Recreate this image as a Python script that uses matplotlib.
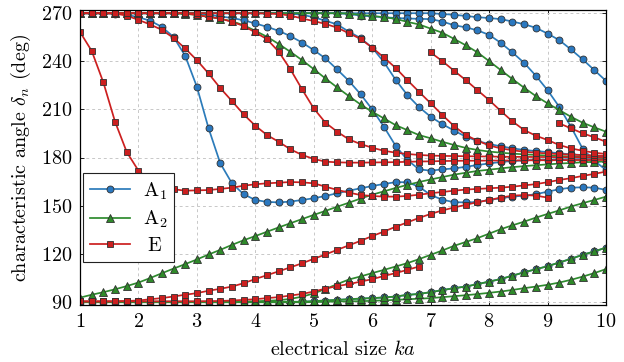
import matplotlib
matplotlib.use("Agg")
import matplotlib.pyplot as plt
import numpy as np

plt.rcParams['font.family'] = 'cmr10'
plt.rcParams['mathtext.fontset'] = 'cm'
plt.rcParams['axes.formatter.use_mathtext'] = True

# electrical size ka, sampled every 0.2
ka = np.linspace(1, 10, 46)

# ---- A1 (blue) ----
a1_1 = [270, 270, 270, 269.8, 269, 267.5, 265.3, 261.5, 255.2, 243.4,
        224.1, 198.2, 176.4, 163.9, 157.1, 153.5, 152.3, 152.0, 152.5, 153.5,
        154.6, 156.0, 157.7, 159.3, 160.8, 162.2, 163.5, 164.6, 164.6, 161.8,
        156.6, 153.7, 152.1, 152.0, 152.2, 153.5, 154.6, 155.6, 156.2, 157.1,
        158.7, 160.2, 161.2, 161.4, 161.2, 159.8]
a1_2 = [270] * 10 + \
       [269.8, 269, 268, 267, 265.6, 263.6, 261.5, 259, 255.7, 251.7,
        247, 241.8, 234.9, 227.8, 219.5, 210, 199.2, 187.3, 178.5, 172.6,
        171.8, 172.6, 173.2, 174.2, 175.3, 176.3, 177.2, 177.8, 178.2, 178.5,
        178.7, 178.8, 178.9, 179, 179, 179]
a1_3 = [270] * 18 + \
       [269.8, 269,
        267.5, 265.3, 263, 258.5, 254.5, 248.5, 239.5, 228.5, 219, 211.5,
        205.4, 200.8, 196.8, 193, 190.3, 188.4, 187, 185.7, 184.7, 184,
        183.4, 182.6, 182, 181.5, 181, 180.6]
a1_4 = [270] * 31 + \
       [269.5, 269, 268.3, 267.5, 267, 266.3, 264.8, 263.1, 260.9,
        257.3, 253.2, 247.4, 241.2, 234.5, 227.8]
a1_5 = [270] * 23 + \
       [269.5, 268.5, 268, 267.5, 267, 266.7, 266.5,
        266.3, 264.8, 262.5, 261.2, 259.3, 256.5, 251.5, 245.5, 239, 231,
        222, 211.6, 199.2, 185.5, 178, 172.2]
a1_6 = [90] * 20 + \
       [90.4, 90.8, 91.2, 91.6, 92, 92.3, 92.7, 93.3, 94.3, 94.9,
        96, 97.3, 98.5, 99.5, 101, 102.6, 104.2, 106.3, 108.4, 110.3,
        112.2, 114.5, 116.8, 119.3, 121.4, 123.8]

# ---- A2 (green) ----
a2_1 = [270] * 9 + \
       [269.5,
        269, 267.7, 266.5, 265, 262.5, 259, 255.3, 250.8, 245.9, 240.7,
        235.1, 229.3, 223.7, 218.3, 213.1, 208.5, 204.4, 200.2, 197.1, 194,
        192, 189.8, 187.8, 186, 184.7, 183.7, 183, 182.4, 182, 181.6,
        181.2, 180.9, 180.6, 180.3, 180, 179.7]
a2_2 = [270] * 23 + \
       [269.8, 269, 268.3, 267.5, 266.5, 264.6, 263,
        260.4, 257.8, 254, 250, 245.6, 240.1, 234.5, 228.9, 223.5, 218.3,
        213.8, 209.6, 205.4, 201.7, 198.8, 196.1]
a2_3 = [92.6, 94.4, 96, 97.8, 99.8, 102, 104.8, 107.8, 110.7, 113.5,
        116.4, 119.5, 122.4, 125.5, 128.4, 131, 133.7, 136.4, 139, 141.6,
        144.2, 146.7, 149.3, 151.8, 154.4, 156.8, 158.9, 161, 162.9, 164.7,
        166.3, 167.8, 169.3, 170.5, 171.6, 172.4, 173.2, 174, 174.6, 175.2,
        175.7, 176.2, 176.6, 177, 177.3, 177.5]
a2_4 = [90] * 15 + \
       [90.3, 90.6, 91, 91.8, 93.2,
        95.2, 98, 101, 103.9, 105.8, 107.9, 109.9, 112, 114.1, 116.6,
        119.3, 122, 124.9, 127.3, 129.7, 132.5, 135.3, 137.7, 140, 142.5,
        144.8, 147, 149.4, 151.5, 153.5, 155.6]
a2_5 = [89.7] * 20 + \
       [89.8, 90, 90.2, 90.3, 90.4, 90.6, 90.9, 91.2, 91.6, 91.9,
        92.3, 92.9, 93.5, 94.1, 94.8, 95.6, 96.4, 97.4, 98.5, 99.5,
        100.6, 102, 103.7, 105.7, 107.9, 110.4]
a2_6 = [90] * 20 + \
       [90.4, 90.8, 91.2, 91.6, 92, 92.3, 92.7, 93.3, 94.3, 94.9,
        96, 97.3, 98.5, 99.5, 101, 102.6, 104.2, 106.3, 108.4, 110.3,
        112.2, 114.5, 116.8, 119.3, 121.4, 123.8]

# ---- E (red) ----
e_1 = [258.3, 246.5, 226.8, 202.3, 183.4, 171.8, 165.5, 161.2, 160.2, 159.3,
       159.5, 159.7, 160.4, 161.2, 162.4, 163.3, 163.9, 164.3, 164.7, 164.5,
       163.9, 161.8, 159.8, 158.1, 156.6, 156, 155.6, 155.6, 156, 156.8,
       157.7, 158.5, 159.3, 160, 160.4, 160.8, 161.2, 161.8, 162.6, 163.4,
       164.6, 166, 167.1, 168.5, 169.8, 171.2]
e_2 = [270, 270, 270, 269.8, 268.5, 265.8, 263, 259.6, 254.6, 248,
       240.7, 232.4, 223.3, 215.2, 206.9, 199.8, 194, 189.8, 185.1, 181.6,
       179.1, 177.4, 177, 176.8, 176.8, 176.9, 177, 177.1, 177.3, 177.5,
       177.6, 177.8, 177.9, 178, 178, 178.1, 178.1, 178.2, 178.2, 178.3,
       178.3, 178.3, 178.4, 178.4, 178.4, 178.5]
e_3 = [270] * 10 + \
      [268.8, 267.7, 266.7, 264.6, 262.1, 258, 253.8, 246, 235, 222.5,
       210.6, 201.7, 196.1, 191.3, 188.4, 186.1, 184.2, 183, 182.2, 181.6,
       181.2, 181, 180.9, 180.8, 180.7, 180.6, 180.5, 180.4, 180.4, 180.3,
       180.3, 180.2, 180.2, 180.1, 180.1, 180]
e_4 = [270] * 16 + \
      [269.8, 269.5, 268.5, 266.7,
       265.1, 263.3, 261, 257.5, 254, 248.5, 242.4, 235.9, 228.3, 221,
       213.8, 206.5, 199.6, 194, 190.5, 187.5, 185.7, 184.5, 183.6, 183,
       182.5, 182.1, 181.8, 181.5, 181.3, 181]
# starts at ka = 7.0
e_5 = [245.5, 240.1, 234.1, 228.3, 222, 215.8, 209, 202.5, 197.1, 193.6,
       190.9, 187.8, 185.7, 184.2, 183, 182.2]
# starts at ka = 9.2
e_6 = [201.3, 198.2, 195.1, 192.6, 189.8]
# ends at ka = 6.8
e_7 = [90.3] * 10 + \
      [90.3, 90.4, 90.5, 90.8, 91.2, 91.6, 92.3, 92.9, 93.9, 94.9,
       96.4, 98.2, 99.8, 101, 102.6, 104.1, 106.1, 107.9, 109.9, 112]
# ends at ka = 9.0
e_8 = [90.2, 90.2, 90.2, 90.3, 90.5, 90.8, 91.6, 92.3, 93.3, 94.4,
       95.4, 96.9, 98.1, 99.5, 101.6, 104.2, 106.6, 109, 111.5, 114,
       116.8, 119.5, 122.4, 125.2, 128, 131, 133.8, 136.8, 139.5, 142.3,
       144.8, 147, 148.8, 150.5, 152.1, 153.5, 155, 156.2, 156.6, 156.2,
       155.0]

blue = '#2b7bba'
green = '#2e8b2e'
red = '#cc1f1f'
mk = dict(markeredgecolor='#303030', markeredgewidth=0.6, linewidth=1.25)

fig = plt.figure(figsize=(6.24, 3.62), dpi=100)
ax = fig.add_axes([80 / 624, 57 / 362, 526 / 624, 295 / 362])

for i, y in enumerate([a1_1, a1_2, a1_3, a1_4, a1_5, a1_6]):
    ax.plot(ka[:len(y)], y, color=blue, marker='o', markersize=5,
            markerfacecolor='#2a78c0', label='A$_1$' if i == 0 else None, **mk)

for i, y in enumerate([a2_1, a2_2, a2_3, a2_4, a2_5, a2_6]):
    ax.plot(ka[:len(y)], y, color=green, marker='^', markersize=5.4,
            markerfacecolor='#2f8a2a', label='A$_2$' if i == 0 else None, **mk)

e_curves = [(e_1, 0), (e_2, 0), (e_3, 0), (e_4, 0), (e_5, 30), (e_6, 41),
            (e_7, 0), (e_8, 0)]
for i, (y, start) in enumerate(e_curves):
    ax.plot(ka[start:start + len(y)], y, color=red, marker='s', markersize=4.4,
            markerfacecolor='#cc1f1f', label=r'$\;$E' if i == 0 else None, **mk)

ax.set_xlim(1, 10)
ax.set_ylim(88, 272)
ax.set_xticks(range(1, 11))
ax.set_yticks(range(90, 271, 30))
ax.grid(True, color='#c8c8c8', linestyle=(0, (3, 3)), linewidth=0.7)
ax.set_axisbelow(True)
ax.tick_params(direction='in', length=3, width=0.6, top=True, right=True,
               labelsize=14.5, pad=5.5)
for s in ax.spines.values():
    s.set_linewidth(0.9)

ax.set_xlabel('electrical size $ka$', fontsize=14.5, labelpad=7)
ax.set_ylabel(r'characteristic angle $\delta_n$ (deg)', fontsize=14.5,
              labelpad=6)

leg = ax.legend(loc='lower left', bbox_to_anchor=(0.006, 0.145), fontsize=14.5,
                fancybox=False, edgecolor='#222222', framealpha=1,
                handlelength=2.0, borderpad=0.35, labelspacing=0.35,
                handletextpad=0.6, borderaxespad=0)
leg.get_frame().set_linewidth(0.8)

fig.savefig('out.png', dpi=100)
